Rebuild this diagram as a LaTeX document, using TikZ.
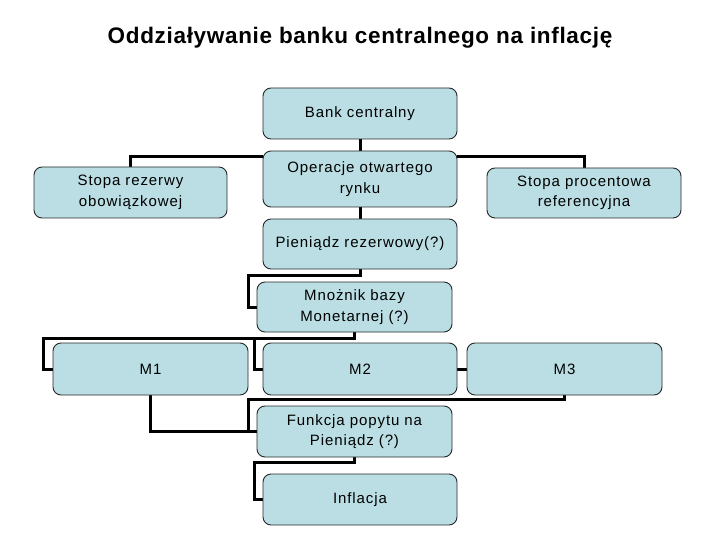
\documentclass[tikz,border=0pt]{standalone}
\usepackage{fontspec}
\setmainfont{Liberation Sans}
\newfontfamily\boxfont[LetterSpace=6]{Liberation Sans}
\newfontfamily\titlefont[LetterSpace=3]{Liberation Sans}
\usetikzlibrary{calc,backgrounds}
\definecolor{boxfill}{RGB}{186,222,227}
\definecolor{boxline}{RGB}{40,40,40}
\tikzset{
  card/.style={draw=boxline, line width=0.9pt, fill=boxfill, rounded corners=8pt,
    align=center, inner sep=2pt, font=\boxfont\fontsize{15}{20.5}\selectfont},
  wide/.style={minimum width=194pt},
  conn/.style={line width=3pt, draw=black, line join=miter}
}
\begin{document}
\begin{tikzpicture}[x=1pt,y=-1pt]
\useasboundingbox (0,0) rectangle (720,540);
\node[font=\titlefont\bfseries\fontsize{22.5}{24}\selectfont] (title) at (360,38) {Oddziaływanie banku centralnego na inflację};

\node[card, wide, minimum height=51pt] (bank) at (360,113.5) {Bank centralny};
\node[card, wide, minimum height=56pt] (oper) at (360,179) {Operacje otwartego\\rynku};
\node[card, wide, minimum height=50pt] (pien) at (360,244) {Pieniądz rezerwowy(?)};
\node[card, minimum width=193pt, minimum height=51pt] (stopar) at (130.5,192.5) {Stopa rezerwy\\obowiązkowej};
\node[card, wide, minimum height=50pt] (stopap) at (584,193) {Stopa procentowa\\referencyjna};
\node[card, minimum width=195pt, minimum height=50pt] (mnoz) at (354.5,307) {Mnożnik bazy\\Monetarnej (?)};
\node[card, minimum width=195pt, minimum height=52pt] (m1) at (150.5,369) {M1};
\node[card, wide, minimum height=52pt] (m2) at (360,369) {M2};
\node[card, minimum width=195pt, minimum height=52pt] (m3) at (564.5,369) {M3};
\node[card, minimum width=195pt, minimum height=51pt] (funk) at (354.5,431.5) {Funkcja popytu na\\Pieniądz (?)};
\node[card, wide, minimum height=51pt] (infl) at (360,499.5) {Inflacja};

\begin{scope}[on background layer]
\draw[conn] (bank.south) -- (oper.north);
\draw[conn] ([yshift=-6pt]oper.north west) -| (stopar.north);
\draw[conn] ([yshift=-6pt]oper.north east) -| (stopap.north);
\draw[conn] (oper.south) -- (pien.north);
\draw[conn] (pien.south) -- ++(0,6) -| ($(mnoz.west)+(-8,0)$) -- (mnoz.west);
\draw[conn] (mnoz.south) -- ++(0,6) -| ($(m1.west)+(-9,0)$) -- (m1.west);
\draw[conn] (mnoz.south) -- ++(0,6) -| ($(m2.west)+(-8,0)$) -- (m2.west);
\draw[conn] (m2.east) -- (m3.west);
\draw[conn] (m3.south) -- ++(0,4) -| ($(funk.west)+(-8,0)$) -- (funk.west);
\draw[conn] (m1.south) |- (funk.west);
\draw[conn] (funk.south) -- ++(0,5) -| ($(infl.west)+(-8,0)$) -- (infl.west);
\end{scope}
\end{tikzpicture}
\end{document}
